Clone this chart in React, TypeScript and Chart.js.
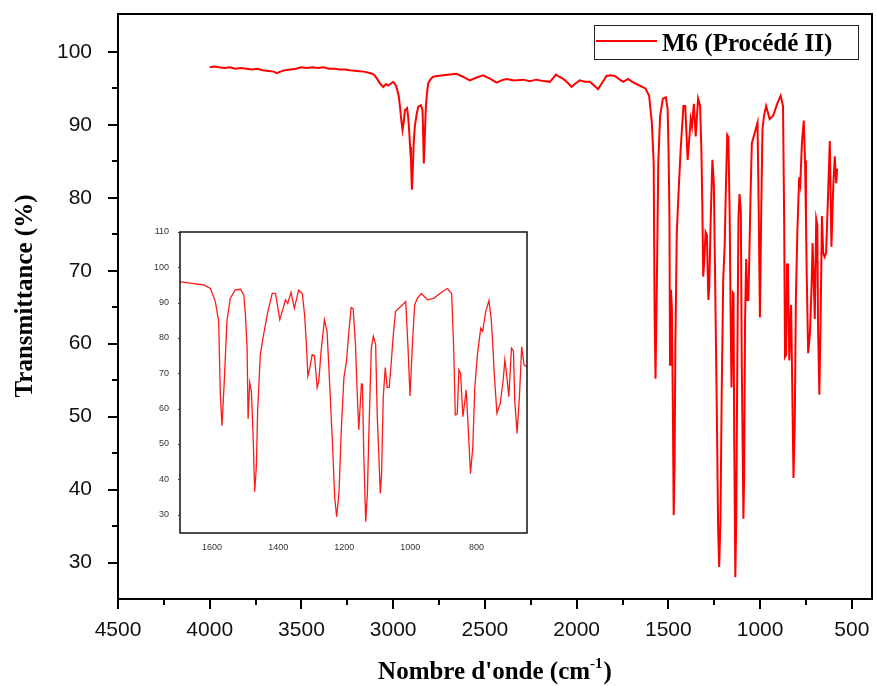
import React, { useEffect, useRef } from "react";
import { Chart, registerables } from "chart.js";

Chart.register(...registerables);

// ---- data ----
const wavenumbers = [
  4000, 3975, 3950, 3920, 3890, 3860, 3830, 3800, 3770, 3740, 3710, 3680, 3650, 3635, 3615, 3590, 3560, 3530,
  3500, 3470, 3440, 3410, 3380, 3350, 3320, 3290, 3260, 3236, 3200, 3160, 3127, 3105, 3090, 3070, 3054, 3040,
  3027, 3010, 3000, 2990, 2982, 2970, 2963, 2955, 2949, 2942, 2936, 2924, 2918, 2913, 2908, 2903, 2898, 2893,
  2888, 2882, 2872, 2863, 2849, 2840, 2836, 2833, 2828, 2822, 2815, 2809, 2795, 2782, 2760, 2728, 2690, 2655,
  2620, 2582, 2545, 2510, 2470, 2436, 2410, 2382, 2340, 2291, 2255, 2219, 2180, 2146, 2125, 2113, 2095, 2073,
  2050, 2028, 2005, 1983, 1955, 1928, 1905, 1883, 1860, 1837, 1815, 1792, 1770, 1746, 1720, 1696, 1666, 1625,
  1605, 1590, 1580, 1575, 1570, 1563, 1555, 1545, 1530, 1514, 1504, 1499, 1494, 1491, 1486, 1481, 1476, 1471,
  1466, 1462, 1454, 1444, 1433, 1418, 1408, 1395, 1385, 1378, 1371, 1361, 1351, 1338, 1327, 1320, 1315, 1310,
  1304, 1297, 1290, 1282, 1277, 1270, 1260, 1252, 1247, 1236, 1229, 1223, 1216, 1209, 1201, 1193, 1186, 1179,
  1173, 1166, 1161, 1156, 1148, 1145, 1141, 1135, 1130, 1125, 1118, 1112, 1105, 1100, 1094, 1091, 1087, 1082,
  1076, 1070, 1064, 1058, 1052, 1045, 1029, 1014, 1007, 1001, 994, 987, 979, 967, 948, 928, 908, 888, 875, 869,
  864, 858, 853, 848, 841, 831, 825, 818, 811, 805, 797, 787, 781, 772, 762, 755, 750, 746, 738, 728, 719, 714,
  709, 702, 694, 688, 684, 677, 670, 663, 656, 648, 640, 630, 620, 611, 602, 593, 585, 580,
];
const transmittance = [
  97.9, 98.0, 97.9, 97.8, 97.9, 97.7, 97.8, 97.7, 97.6, 97.7, 97.5, 97.4, 97.3, 97.1, 97.3, 97.5, 97.6, 97.7,
  97.9, 97.8, 97.9, 97.8, 97.9, 97.7, 97.7, 97.6, 97.6, 97.5, 97.4, 97.3, 97.1, 96.9, 96.4, 95.6, 95.2, 95.6,
  95.4, 95.7, 95.9, 95.6, 95.2, 94.0, 92.5, 90.5, 89.3, 90.5, 92.0, 92.3, 91.0, 89.3, 87.0, 85.2, 81.1, 84.0,
  87.5, 89.8, 91.5, 92.5, 92.7, 92.0, 88.0, 84.7, 88.0, 92.5, 94.5, 95.7, 96.3, 96.6, 96.7, 96.8, 96.9, 97.0,
  96.6, 96.1, 96.5, 96.8, 96.3, 95.8, 96.1, 96.3, 96.1, 96.2, 96.0, 96.2, 96.0, 95.9, 96.5, 96.9, 96.6, 96.3,
  95.8, 95.2, 95.7, 96.1, 95.9, 95.9, 95.4, 94.9, 95.8, 96.7, 96.8, 96.7, 96.3, 95.9, 96.3, 95.9, 95.5, 95.0,
  94.0, 90.3, 84.7, 64.0, 55.2, 67.8, 84.7, 91.2, 93.6, 93.8, 92.2, 86.6, 77.2, 57.1, 67.4, 65.0, 52.9, 36.5,
  43.5, 59.4, 75.3, 81.0, 86.6, 92.6, 92.6, 85.2, 88.4, 90.8, 89.8, 92.9, 88.4, 93.6, 92.6, 86.6, 79.1, 69.2,
  71.6, 75.3, 74.9, 66.0, 67.8, 76.3, 85.2, 81.9, 72.5, 51.0, 35.0, 29.4, 36.0, 53.8, 68.8, 73.5, 81.9, 88.6,
  88.3, 78.1, 65.0, 54.0, 67.0, 66.9, 47.2, 28.0, 36.0, 54.7, 77.2, 80.5, 78.1, 57.5, 43.6, 36.0, 41.6, 63.1,
  71.6, 66.0, 66.0, 72.8, 80.4, 87.5, 88.9, 90.3, 77.2, 63.6, 77.7, 89.4, 91.2, 92.6, 90.8, 91.3, 92.8, 94.0, 92.6, 77.5,
  58.2, 58.5, 71.0, 70.0, 57.7, 65.3, 54.7, 41.6, 49.1, 66.0, 75.3, 82.8, 81.9, 87.5, 90.6, 85.1, 77.2, 69.7, 58.7, 61.5, 68.1, 73.8,
  70.0, 63.4, 77.1, 76.3, 62.2, 53.0, 63.4, 77.5, 72.4, 71.9, 72.5, 80.0, 87.8, 73.3, 81.0, 85.7, 82.0, 84.0,
];

const mainXTicks = [4500, 4000, 3500, 3000, 2500, 2000, 1500, 1000, 500];
const mainXMinor = [4250, 3750, 3250, 2750, 2250, 1750, 1250, 750];
const mainYTicks = [30, 40, 50, 60, 70, 80, 90, 100];
const mainYMinor = [35, 45, 55, 65, 75, 85, 95];
const insetXTicks = [1600, 1400, 1200, 1000, 800];
const insetYTicks = [30, 40, 50, 60, 70, 80, 90, 100, 110];

const seriesLabel = "M6 (Procédé II)";
const xTitleMain = "Nombre d'onde (cm";
const xTitleSup = "-1";
const xTitleEnd = ")";
const yTitle = "Transmittance (%)";

const SERIF = '"Liberation Serif", "Times New Roman", serif';
const SANS = '"Liberation Sans", Arial, sans-serif';

function points() {
  return wavenumbers.map((w, i) => ({ x: w, y: transmittance[i] }));
}

function noPadding(s: any) {
  s.paddingTop = 0;
  s.paddingBottom = 0;
  s.paddingLeft = 0;
  s.paddingRight = 0;
}

const mainDecor = {
  id: "mainDecor",
  afterDraw(chart: any) {
    const { ctx, chartArea: a, scales } = chart;
    const x = scales.x;
    const y = scales.y;
    ctx.save();
    ctx.strokeStyle = "#000";
    ctx.lineWidth = 2;
    ctx.strokeRect(a.left, a.top, a.right - a.left, a.bottom - a.top);
    ctx.beginPath();
    for (const v of mainXTicks) {
      const px = Math.round(x.getPixelForValue(v));
      ctx.moveTo(px, a.bottom);
      ctx.lineTo(px, a.bottom + 10);
    }
    for (const v of mainXMinor) {
      const px = Math.round(x.getPixelForValue(v));
      ctx.moveTo(px, a.bottom);
      ctx.lineTo(px, a.bottom + 6);
    }
    for (const v of mainYTicks) {
      const py = Math.round(y.getPixelForValue(v));
      ctx.moveTo(a.left, py);
      ctx.lineTo(a.left - 10, py);
    }
    for (const v of mainYMinor) {
      const py = Math.round(y.getPixelForValue(v));
      ctx.moveTo(a.left, py);
      ctx.lineTo(a.left - 6, py);
    }
    ctx.stroke();

    // legend
    ctx.fillStyle = "#fff";
    ctx.fillRect(594, 25, 264, 34);
    ctx.lineWidth = 1;
    ctx.strokeStyle = "#222";
    ctx.strokeRect(594.5, 25.5, 264, 34);
    ctx.strokeStyle = "#ff0000";
    ctx.lineWidth = 2;
    ctx.beginPath();
    ctx.moveTo(596, 41);
    ctx.lineTo(657, 41);
    ctx.stroke();
    ctx.fillStyle = "#000";
    ctx.font = "bold 25px " + SERIF;
    ctx.textBaseline = "alphabetic";
    ctx.textAlign = "left";
    ctx.fillText(seriesLabel, 662, 51);

    // x title with superscript
    ctx.font = "bold 25px " + SERIF;
    const w1 = ctx.measureText(xTitleMain).width;
    ctx.font = "bold 15px " + SERIF;
    const w2 = ctx.measureText(xTitleSup).width;
    ctx.font = "bold 25px " + SERIF;
    const w3 = ctx.measureText(xTitleEnd).width;
    const total = w1 + w2 + w3 + 1;
    let sx = (a.left + a.right) / 2 - total / 2;
    const base = 679;
    ctx.fillText(xTitleMain, sx, base);
    sx += w1;
    ctx.font = "bold 15px " + SERIF;
    ctx.fillText(xTitleSup, sx, base - 11);
    sx += w2 + 1;
    ctx.font = "bold 25px " + SERIF;
    ctx.fillText(xTitleEnd, sx, base);

    // y title
    ctx.translate(32, 296);
    ctx.rotate(-Math.PI / 2);
    ctx.textAlign = "center";
    ctx.fillText(yTitle, 0, 0);
    ctx.restore();
  },
};

const insetDecor = {
  id: "insetDecor",
  beforeDraw(chart: any) {
    const { ctx, chartArea: a } = chart;
    ctx.save();
    ctx.fillStyle = "#fff";
    ctx.fillRect(a.left, a.top, a.right - a.left, a.bottom - a.top);
    ctx.restore();
  },
  afterDraw(chart: any) {
    const { ctx, chartArea: a, scales } = chart;
    ctx.save();
    ctx.strokeStyle = "#111";
    ctx.lineWidth = 1.5;
    ctx.strokeRect(a.left, a.top, a.right - a.left, a.bottom - a.top);
    ctx.lineWidth = 1;
    ctx.strokeStyle = "#334";
    ctx.beginPath();
    for (const v of insetYTicks) {
      const py = Math.round(scales.y.getPixelForValue(v)) + 0.5;
      ctx.moveTo(a.left, py);
      ctx.lineTo(a.left - 2, py);
    }
    ctx.stroke();
    ctx.restore();
  },
};

export default function App() {
  const mainRef = useRef<HTMLCanvasElement | null>(null);
  const insetRef = useRef<HTMLCanvasElement | null>(null);

  useEffect(() => {
    const data = points();
    const main = new Chart(mainRef.current as HTMLCanvasElement, {
      type: "line",
      data: {
        datasets: [
          {
            label: seriesLabel,
            data: data,
            borderColor: "#ff0000",
            borderWidth: 2,
            pointRadius: 0,
            tension: 0,
            fill: false,
          },
        ],
      },
      options: {
        responsive: false,
        animation: false,
        events: [],
        layout: { padding: { top: 14, right: 5, left: 0, bottom: 0 } },
        plugins: { legend: { display: false }, tooltip: { enabled: false }, title: { display: false } },
        scales: {
          x: {
            type: "linear",
            reverse: true,
            min: 390,
            max: 4500,
            afterBuildTicks: (s: any) => {
              s.ticks = mainXTicks.map((v) => ({ value: v }));
            },
            afterFit: (s: any) => {
              s.height = 87;
              noPadding(s);
            },
            grid: { display: false },
            border: { display: false },
            ticks: {
              color: "#111",
              font: { family: SANS, size: 21 },
              padding: 11,
              maxRotation: 0,
              autoSkip: false,
              callback: (v: any) => String(v),
            },
          },
          y: {
            type: "linear",
            min: 25,
            max: 105.2,
            afterBuildTicks: (s: any) => {
              s.ticks = mainYTicks.map((v) => ({ value: v }));
            },
            afterFit: (s: any) => {
              s.width = 118;
              noPadding(s);
            },
            grid: { display: false },
            border: { display: false },
            ticks: {
              color: "#111",
              font: { family: SANS, size: 21 },
              padding: 18,
              autoSkip: false,
              callback: (v: any) => String(v),
            },
          },
        },
      },
      plugins: [mainDecor],
    });

    const inset = new Chart(insetRef.current as HTMLCanvasElement, {
      type: "line",
      data: {
        datasets: [
          {
            label: seriesLabel,
            data: data,
            borderColor: "#ff1a1a",
            borderWidth: 1.3,
            pointRadius: 0,
            tension: 0,
            fill: false,
          },
        ],
      },
      options: {
        responsive: false,
        animation: false,
        events: [],
        layout: { padding: { top: 12, right: 8, left: 0, bottom: 0 } },
        plugins: { legend: { display: false }, tooltip: { enabled: false }, title: { display: false } },
        scales: {
          x: {
            type: "linear",
            reverse: true,
            min: 647,
            max: 1697,
            afterBuildTicks: (s: any) => {
              s.ticks = insetXTicks.map((v) => ({ value: v }));
            },
            afterFit: (s: any) => {
              s.height = 17;
              noPadding(s);
            },
            grid: { display: false },
            border: { display: false },
            ticks: {
              color: "#333",
              font: { family: SANS, size: 9 },
              padding: 1,
              maxRotation: 0,
              autoSkip: false,
              callback: (v: any) => String(v),
            },
          },
          y: {
            type: "linear",
            min: 24.8,
            max: 110,
            afterBuildTicks: (s: any) => {
              s.ticks = insetYTicks.map((v) => ({ value: v }));
            },
            afterFit: (s: any) => {
              s.width = 40;
              noPadding(s);
            },
            grid: { display: false },
            border: { display: false },
            ticks: {
              color: "#333",
              font: { family: SANS, size: 9 },
              padding: 3,
              autoSkip: false,
              callback: (v: any) => String(v),
            },
          },
        },
      },
      plugins: [insetDecor],
    });

    return () => {
      main.destroy();
      inset.destroy();
    };
  }, []);

  return (
    <div style={{ position: "absolute", left: 0, top: 0, width: 877, height: 686, background: "#fff" }}>
      <canvas ref={mainRef} width={877} height={686} style={{ position: "absolute", left: 0, top: 0 }} />
      <canvas
        ref={insetRef}
        width={395}
        height={330}
        style={{ position: "absolute", left: 140, top: 220 }}
      />
    </div>
  );
}
